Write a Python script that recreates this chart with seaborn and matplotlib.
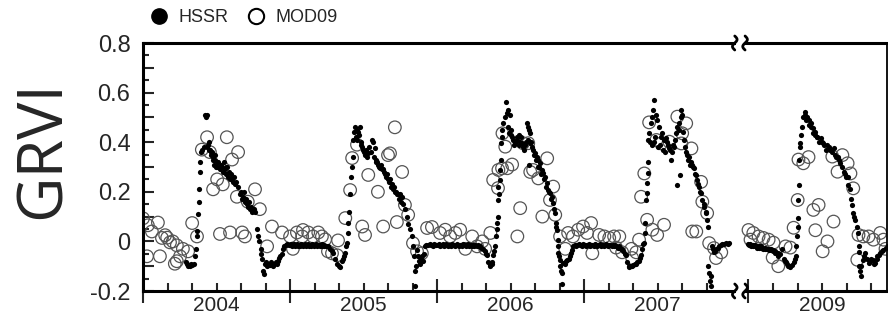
import numpy as np
import pandas as pd
import matplotlib
matplotlib.use("Agg")
import matplotlib.pyplot as plt
from matplotlib.lines import Line2D
from matplotlib.patches import Rectangle
from matplotlib.transforms import IdentityTransform
import seaborn as sns

# ---------------------------------------------------------------------------
# GRVI time series: (day of year, GRVI) per year and sensor
# ---------------------------------------------------------------------------
years = [2004, 2005, 2006, 2007, 2009]
year_labels = ["2004", "2005", "2006", "2007", "2009"]
# position of each season on the (broken) time axis, in months
year_offsets = [0.0, 12.0, 24.0, 36.0, 49.4]

hssr_2004 = [
    (107, -0.085), (110, -0.09), (112, -0.10), (115, -0.095), (117, -0.10), (120, -0.09),
    (122, -0.095), (126, -0.09), (129, -0.06), (131, -0.03), (133, 0.02), (135, 0.04),
    (136, 0.11), (138, 0.16), (140, 0.21), (141, 0.28), (142, 0.32), (144, 0.36),
    (147, 0.37), (151, 0.38), (154, 0.51), (156, 0.50), (158, 0.51), (159, 0.38),
    (161, 0.39), (163, 0.37), (164, 0.40), (166, 0.37), (168, 0.36), (169, 0.35),
    (171, 0.36), (173, 0.34), (174, 0.33), (176, 0.31), (178, 0.35), (179, 0.33),
    (181, 0.30), (183, 0.32), (184, 0.30), (186, 0.32), (188, 0.30), (191, 0.29),
    (193, 0.31), (196, 0.30), (198, 0.28), (201, 0.32), (203, 0.29), (205, 0.30),
    (206, 0.27), (208, 0.30), (211, 0.26), (213, 0.28), (216, 0.25), (218, 0.27),
    (221, 0.25), (223, 0.24), (226, 0.26), (228, 0.23), (231, 0.24), (236, 0.22),
    (241, 0.19), (244, 0.20), (246, 0.17), (248, 0.18), (250, 0.20), (253, 0.16),
    (255, 0.17), (258, 0.15), (260, 0.14), (263, 0.16), (265, 0.13), (268, 0.14),
    (270, 0.12), (275, 0.13), (278, 0.12), (283, 0.05), (285, 0.02), (288, 0.00),
    (292, -0.03), (294, -0.05), (296, -0.07), (297, -0.12), (300, -0.13), (303, -0.09),
    (306, -0.085), (308, -0.10), (311, -0.09), (314, -0.095), (317, -0.085), (320, -0.09),
    (323, -0.10), (326, -0.09), (329, -0.085), (332, -0.09), (335, -0.08), (338, -0.065),
    (341, -0.06), (344, -0.05), (347, -0.03), (350, -0.02), (354, -0.015), (358, -0.01),
    (362, -0.015),
]

hssr_2005 = [
    (0, -0.015), (3, -0.01), (5, -0.02), (8, -0.015), (10, -0.01), (13, -0.02), (15, -0.015),
    (18, -0.01), (20, -0.02), (23, -0.015), (25, -0.02), (28, -0.01), (30, -0.015), (33, -0.02),
    (35, -0.015), (38, -0.01), (40, -0.02), (43, -0.015), (45, -0.01), (48, -0.02), (50, -0.015),
    (53, -0.02), (55, -0.01), (58, -0.015), (60, -0.02), (63, -0.015), (65, -0.01), (68, -0.02),
    (70, -0.015), (73, -0.02), (75, -0.015), (78, -0.01), (80, -0.02), (83, -0.015), (85, -0.02),
    (88, -0.02), (94, -0.02), (99, -0.03), (104, -0.04), (107, -0.045), (112, -0.07),
    (117, -0.09), (122, -0.10), (124, -0.105), (129, -0.08), (131, -0.07), (134, -0.06),
    (137, -0.045), (139, -0.02), (141, -0.005), (143, 0.035), (144, 0.075), (146, 0.12),
    (148, 0.19), (151, 0.26), (154, 0.30), (155, 0.34), (156, 0.41), (158, 0.44), (161, 0.46),
    (164, 0.42), (166, 0.45), (167, 0.41), (169, 0.44), (171, 0.43), (174, 0.46), (175, 0.40),
    (177, 0.39), (179, 0.38), (181, 0.37), (184, 0.36), (186, 0.35), (189, 0.37), (191, 0.34),
    (194, 0.355), (197, 0.38), (200, 0.36), (203, 0.41), (206, 0.40), (208, 0.34), (211, 0.375),
    (212, 0.32), (214, 0.33), (216, 0.32), (219, 0.31), (221, 0.30), (223, 0.295), (226, 0.31),
    (228, 0.29), (231, 0.29), (233, 0.28), (236, 0.27), (238, 0.26), (241, 0.27), (243, 0.25),
    (246, 0.24), (248, 0.25), (251, 0.22), (253, 0.23), (255, 0.21), (258, 0.22), (260, 0.20),
    (263, 0.20), (265, 0.19), (268, 0.19), (270, 0.17), (273, 0.19), (276, 0.16), (278, 0.18),
    (280, 0.15), (285, 0.13), (290, 0.10), (293, 0.07), (298, 0.05), (303, 0.02), (305, -0.02),
    (308, -0.06), (310, -0.12), (311, -0.18), (313, -0.10), (315, -0.035), (318, -0.06),
    (320, -0.08), (323, -0.09), (325, -0.07), (327, -0.06), (330, -0.08), (332, -0.05),
    (335, -0.02), (338, -0.015), (342, -0.015), (346, -0.01), (350, -0.015), (354, -0.02),
    (357, -0.01), (362, -0.015),
]

hssr_2006 = [
    (2, -0.015), (5, -0.01), (8, -0.02), (11, -0.015), (14, -0.01), (17, -0.02), (20, -0.015),
    (23, -0.01), (26, -0.02), (29, -0.015), (32, -0.015), (35, -0.02), (38, -0.01), (41, -0.015),
    (44, -0.02), (47, -0.015), (50, -0.01), (53, -0.02), (56, -0.015), (59, -0.015), (62, -0.02),
    (65, -0.01), (68, -0.015), (71, -0.02), (74, -0.015), (77, -0.01), (80, -0.02), (83, -0.015),
    (86, -0.02), (89, -0.015), (92, -0.02), (95, -0.015), (98, -0.02), (101, -0.015),
    (104, -0.02), (107, -0.02), (110, -0.025), (114, -0.03), (118, -0.04), (121, -0.05),
    (124, -0.056), (127, -0.085), (130, -0.095), (132, -0.10), (135, -0.09), (137, -0.085),
    (139, -0.056), (142, -0.04), (144, -0.02), (146, 0.02), (148, 0.05), (149, 0.073),
    (150, 0.10), (151, 0.167), (152, 0.22), (154, 0.19), (156, 0.248), (157, 0.288),
    (158, 0.328), (159, 0.396), (161, 0.422), (162, 0.449), (164, 0.476), (169, 0.503),
    (170, 0.563), (174, 0.516), (175, 0.463), (176, 0.53), (178, 0.436), (181, 0.51),
    (182, 0.449), (184, 0.43), (186, 0.422), (189, 0.409), (191, 0.39), (194, 0.396),
    (197, 0.42), (199, 0.409), (202, 0.43), (204, 0.39), (206, 0.40), (208, 0.42), (211, 0.396),
    (213, 0.382), (215, 0.37), (218, 0.389), (220, 0.40), (223, 0.476), (225, 0.463),
    (226, 0.409), (227, 0.31), (229, 0.45), (230, 0.436), (231, 0.396), (233, 0.40),
    (236, 0.382), (238, 0.369), (240, 0.35), (243, 0.355), (246, 0.33), (248, 0.342),
    (249, 0.30), (251, 0.328), (253, 0.30), (256, 0.315), (258, 0.27), (261, 0.288),
    (263, 0.275), (265, 0.25), (268, 0.261), (270, 0.22), (273, 0.235), (275, 0.208),
    (278, 0.20), (280, 0.194), (283, 0.17), (285, 0.18), (288, 0.154), (290, 0.13),
    (293, 0.114), (294, 0.073), (296, 0.06), (298, 0.046), (299, 0.006), (300, -0.02),
    (301, -0.047), (303, -0.06), (305, -0.074), (306, -0.10), (308, -0.12), (310, -0.127),
    (311, -0.17), (313, -0.088), (316, -0.09), (320, -0.08), (323, -0.074), (326, -0.07),
    (330, -0.06), (333, -0.045), (335, -0.034), (337, -0.02), (341, -0.015), (344, -0.02),
    (347, -0.015), (351, -0.01), (355, -0.015), (359, -0.02), (362, -0.01),
]

hssr_2007 = [
    (2, -0.015), (5, -0.02), (8, -0.015), (11, -0.01), (14, -0.02), (17, -0.015), (20, -0.015),
    (23, -0.02), (26, -0.01), (29, -0.015), (32, -0.02), (35, -0.015), (38, -0.01), (41, -0.02),
    (44, -0.015), (47, -0.015), (50, -0.02), (53, -0.01), (56, -0.015), (59, -0.02), (62, -0.015),
    (65, -0.015), (68, -0.02), (71, -0.015), (74, -0.02), (77, -0.015), (80, -0.02), (83, -0.025),
    (86, -0.02), (89, -0.025), (92, -0.03), (94, -0.03), (97, -0.04), (100, -0.05), (104, -0.056),
    (107, -0.085), (110, -0.10), (112, -0.105), (115, -0.10), (119, -0.10), (122, -0.095),
    (126, -0.09), (129, -0.093), (132, -0.085), (136, -0.08), (139, -0.065), (141, -0.056),
    (144, -0.03), (147, -0.01), (149, -0.006), (150, 0.034), (151, 0.074), (154, 0.167),
    (155, 0.194), (156, 0.234), (157, 0.274), (158, 0.32), (159, 0.409), (161, 0.436),
    (163, 0.40), (166, 0.476), (168, 0.39), (169, 0.503), (171, 0.53), (172, 0.57), (174, 0.40),
    (176, 0.42), (179, 0.51), (181, 0.49), (184, 0.38), (186, 0.463), (188, 0.39), (191, 0.422),
    (194, 0.436), (196, 0.37), (198, 0.409), (201, 0.36), (203, 0.416), (206, 0.402),
    (208, 0.39), (211, 0.375), (213, 0.37), (216, 0.328), (218, 0.36), (221, 0.39), (223, 0.382),
    (226, 0.41), (228, 0.436), (229, 0.228), (231, 0.463), (234, 0.45), (236, 0.476),
    (237, 0.268), (239, 0.50), (241, 0.53), (243, 0.51), (246, 0.44), (248, 0.41), (251, 0.38),
    (253, 0.362), (256, 0.35), (258, 0.33), (261, 0.342), (263, 0.31), (266, 0.32), (268, 0.308),
    (270, 0.30), (273, 0.295), (275, 0.27), (278, 0.268), (280, 0.248), (283, 0.23),
    (285, 0.221), (288, 0.20), (290, 0.194), (293, 0.167), (296, 0.15), (298, 0.14), (301, 0.12),
    (303, 0.114), (305, 0.087), (306, 0.06), (308, -0.10), (310, -0.127), (312, -0.16),
    (314, -0.18), (315, -0.14), (317, -0.02), (320, -0.03), (322, -0.044), (325, -0.04),
    (327, -0.03), (331, -0.025), (335, -0.02), (339, -0.015), (342, -0.01), (347, -0.01),
    (352, -0.006), (356, -0.01), (360, -0.006),
]

hssr_2009 = [
    (0, -0.01), (2, -0.015), (4, -0.01), (7, -0.02), (10, -0.015), (12, -0.02), (15, -0.015),
    (17, -0.02), (20, -0.025), (22, -0.02), (25, -0.02), (27, -0.025), (30, -0.02), (32, -0.025),
    (35, -0.03), (37, -0.025), (40, -0.03), (42, -0.025), (45, -0.03), (47, -0.03), (50, -0.035),
    (52, -0.03), (55, -0.035), (57, -0.03), (60, -0.04), (62, -0.035), (65, -0.04), (67, -0.045),
    (72, -0.047), (74, -0.06), (78, -0.05), (84, -0.03), (87, -0.07), (90, -0.08), (92, -0.085),
    (95, -0.09), (97, -0.10), (100, -0.10), (104, -0.105), (108, -0.095), (112, -0.085),
    (115, -0.07), (117, -0.06), (119, -0.02), (121, 0.02), (122, 0.06), (123, 0.094),
    (124, 0.167), (125, 0.228), (126, 0.328), (127, 0.382), (129, 0.395), (131, 0.43),
    (134, 0.463), (136, 0.503), (139, 0.51), (141, 0.52), (143, 0.49), (146, 0.503),
    (149, 0.49), (151, 0.47), (154, 0.476), (156, 0.46), (159, 0.456), (161, 0.436),
    (164, 0.44), (166, 0.43), (169, 0.42), (171, 0.422), (175, 0.40), (179, 0.415), (182, 0.40),
    (184, 0.395), (188, 0.39), (192, 0.37), (196, 0.389), (200, 0.38), (203, 0.369), (207, 0.36),
    (211, 0.375), (214, 0.35), (218, 0.34), (221, 0.342), (225, 0.33), (228, 0.315), (232, 0.30),
    (236, 0.28), (240, 0.27), (243, 0.26), (246, 0.261), (248, 0.228), (251, 0.21), (255, 0.17),
    (258, 0.147), (260, 0.114), (263, 0.10), (265, 0.087), (270, 0.06), (271, 0.034),
    (273, -0.02), (274, -0.044), (275, -0.10), (277, -0.12), (278, -0.14), (280, -0.10),
    (283, -0.074), (286, -0.06), (290, -0.047), (294, -0.07), (298, -0.088), (302, -0.08),
    (305, -0.07), (308, -0.074), (312, -0.09), (315, -0.088), (318, -0.07), (320, -0.06),
    (324, -0.055), (327, -0.047), (331, -0.04), (335, -0.035), (340, -0.025), (345, -0.02),
]

mod09_2004 = [
    (0, 0.093), (10, -0.06), (12, 0.065), (22, 0.04), (37, 0.076), (42, -0.06), (47, 0.014),
    (55, 0.025), (60, 0.015), (67, -0.004), (74, 0.0), (79, -0.09), (84, -0.016), (84, -0.08),
    (92, -0.06), (99, -0.03), (112, -0.04), (122, 0.074), (134, 0.02), (146, 0.37), (159, 0.42),
    (166, 0.36), (174, 0.21), (184, 0.25), (191, 0.03), (198, 0.23), (208, 0.42), (216, 0.036),
    (221, 0.33), (233, 0.18), (236, 0.36), (246, 0.036), (253, 0.02), (260, 0.16), (278, 0.21),
    (290, 0.13), (308, -0.02), (320, 0.06), (345, 0.036),
]

mod09_2005 = [
    (0, 0.02), (7, -0.03), (17, 0.036), (30, 0.02), (32, 0.046), (45, 0.036), (57, 0.02),
    (70, 0.036), (79, 0.02), (87, 0.008), (94, -0.04), (104, -0.048), (117, -0.056), (119, 0.004),
    (137, 0.094), (149, 0.207), (154, 0.336), (166, 0.39), (179, 0.06), (186, 0.026),
    (194, 0.268), (218, 0.20), (231, 0.06), (243, 0.348), (248, 0.355), (260, 0.46), (265, 0.078),
    (278, 0.28), (285, 0.147), (293, 0.107), (305, -0.007), (315, -0.04), (327, -0.048),
    (340, 0.054), (352, 0.058),
]

mod09_2006 = [
    (7, 0.034), (20, 0.047), (32, 0.02), (45, 0.034), (57, 0.047), (70, -0.03), (87, 0.02),
    (99, -0.02), (112, 0.0), (119, -0.03), (132, 0.034), (139, 0.248), (151, 0.215), (152, 0.288),
    (161, 0.295), (162, 0.436), (169, 0.382), (174, 0.295), (186, 0.31), (199, 0.02),
    (206, 0.134), (213, 0.396), (226, 0.396), (231, 0.28), (238, 0.288), (251, 0.254),
    (261, 0.10), (273, 0.335), (280, 0.167), (288, 0.221), (293, 0.107), (305, 0.02),
    (318, -0.03), (325, 0.034), (337, 0.02), (350, 0.047), (362, 0.06),
]

mod09_2007 = [
    (7, 0.034), (17, 0.074), (20, -0.048), (37, 0.026), (50, 0.02), (62, 0.014), (74, 0.02),
    (79, -0.025), (87, 0.02), (94, -0.044), (117, -0.03), (119, -0.067), (129, -0.044),
    (136, 0.007), (141, 0.18), (149, 0.274), (156, 0.087), (161, 0.48), (169, 0.047),
    (179, 0.409), (181, 0.026), (191, 0.395), (198, 0.067), (211, 0.402), (231, 0.503),
    (241, 0.395), (243, 0.436), (253, 0.476), (266, 0.375), (268, 0.04), (278, 0.04),
    (290, 0.24), (293, 0.16), (305, 0.114), (310, -0.007), (322, -0.027), (327, -0.067),
    (340, -0.044),
]

mod09_2009 = [
    (0, 0.046), (5, 0.007), (12, 0.034), (25, 0.02), (37, 0.014), (50, 0.007), (60, -0.065),
    (62, -0.005), (74, -0.10), (92, -0.02), (104, -0.025), (112, 0.055), (122, 0.167),
    (124, 0.33), (136, 0.315), (149, 0.34), (161, 0.127), (166, 0.045), (174, 0.147),
    (184, -0.04), (196, 0.0), (208, 0.342), (211, 0.08), (221, 0.281), (233, 0.348),
    (246, 0.315), (253, 0.274), (260, 0.214), (270, -0.074), (273, 0.026), (285, 0.02),
    (298, 0.02), (310, 0.007), (327, 0.034), (335, 0.007), (340, -0.03),
]

hssr_by_year = [hssr_2004, hssr_2005, hssr_2006, hssr_2007, hssr_2009]
mod09_by_year = [mod09_2004, mod09_2005, mod09_2006, mod09_2007, mod09_2009]


def to_frame(series_by_year, sensor):
    rows = []
    for offset, pts in zip(year_offsets, series_by_year):
        for doy, val in pts:
            rows.append({"t": offset + doy * 12.0 / 365.0, "GRVI": val, "sensor": sensor})
    return pd.DataFrame(rows)


hssr_df = to_frame(hssr_by_year, "HSSR")
mod09_df = to_frame(mod09_by_year, "MOD09")

# ---------------------------------------------------------------------------
# Figure
# ---------------------------------------------------------------------------
sns.set_style("white")
plt.rcParams["font.family"] = ["Liberation Sans", "DejaVu Sans"]
plt.rcParams["axes.unicode_minus"] = False

W, H = 888, 320
fig = plt.figure(figsize=(W / 100, H / 100), dpi=100)
ax = fig.add_axes([143 / W, 29 / H, 744 / W, 248 / H])

sns.scatterplot(data=mod09_df, x="t", y="GRVI", ax=ax, s=82, marker="o",
                facecolors="none", edgecolors="#555555", linewidths=0.9,
                legend=False, zorder=2)
sns.scatterplot(data=hssr_df, x="t", y="GRVI", ax=ax, s=14, marker="o",
                color="black", linewidth=0, legend=False, zorder=3)

x_max = 60.7
ax.set_xlim(0, x_max)
ax.set_ylim(-0.2, 0.8)
ax.set_xlabel("")
ax.set_ylabel("")

for side, lw in (("left", 2.2), ("bottom", 2.2), ("top", 2.2), ("right", 1.3)):
    ax.spines[side].set_visible(True)
    ax.spines[side].set_linewidth(lw)
    ax.spines[side].set_color("black")

# y ticks: long every 0.1, short every 0.05, labels every 0.2
y_major = [-0.2, -0.1, 0.0, 0.1, 0.2, 0.3, 0.4, 0.5, 0.6, 0.7, 0.8]
y_labels = ["-0.2", "", "0", "", "0.2", "", "0.4", "", "0.6", "", "0.8"]
y_minor = [-0.15, -0.05, 0.05, 0.15, 0.25, 0.35, 0.45, 0.55, 0.65, 0.75]
ax.set_yticks(y_major)
ax.set_yticklabels(y_labels)
ax.set_yticks(y_minor, minor=True)
ax.tick_params(axis="y", which="major", direction="in", length=8, width=1.5,
               labelsize=17, pad=9, left=True, right=False)
ax.tick_params(axis="y", which="minor", direction="in", length=4.5, width=1.5,
               left=True, right=False)

# x ticks: season boundaries cross the axis, two-month marks point inward
x_major = year_offsets
x_minor = [off + m for off in year_offsets for m in (2, 4, 6, 8, 10)]
ax.set_xticks(x_major)
ax.set_xticklabels([])
ax.set_xticks(x_minor, minor=True)
ax.tick_params(axis="x", which="major", direction="inout", length=17, width=1.5,
               bottom=True, top=False)
ax.tick_params(axis="x", which="minor", direction="in", length=6, width=1.5,
               bottom=True, top=False)

xtrans = ax.get_xaxis_transform()
for off, lab in zip(year_offsets, year_labels):
    ax.text(off + 6, -0.06, lab, transform=xtrans, ha="center", va="center",
            fontsize=15)

# axis break between 2007 and 2009
brk_lo, brk_hi = 48.35, 49.05
for yb in (0.0, 1.0):
    ax.add_patch(Rectangle((brk_lo, yb - 0.02), brk_hi - brk_lo, 0.04,
                           transform=xtrans, facecolor="white", edgecolor="none",
                           clip_on=False, zorder=5))
t = np.linspace(-1, 1, 40)
for xb in (48.28, 49.12):
    for yb in (-0.2, 0.8):
        px, py = ax.transData.transform((xb, yb))
        ax.add_line(Line2D(px + 2.3 * np.sin(np.pi * t), py + 7.0 * t,
                           transform=IdentityTransform(), color="black", lw=2.0,
                           solid_capstyle="round", clip_on=False, zorder=6))

# legend above the plot
handles = [
    Line2D([], [], ls="", marker="o", color="black", markersize=11),
    Line2D([], [], ls="", marker="o", markerfacecolor="none",
           markeredgecolor="black", markeredgewidth=1.5, markersize=11),
]
fig.legend(handles, ["HSSR", "MOD09"], loc="center left",
           bbox_to_anchor=(150 / W, 1 - 18 / H), ncol=2, frameon=False,
           fontsize=13, handlelength=1.0, handletextpad=0.6, columnspacing=1.0,
           borderpad=0, borderaxespad=0)

fig.text(43 / W, 1 - 150 / H, "GRVI", rotation=90, ha="center", va="center",
         fontsize=45, family=["Open Sans", "DejaVu Sans"])

fig.savefig("out.png", dpi=100)
